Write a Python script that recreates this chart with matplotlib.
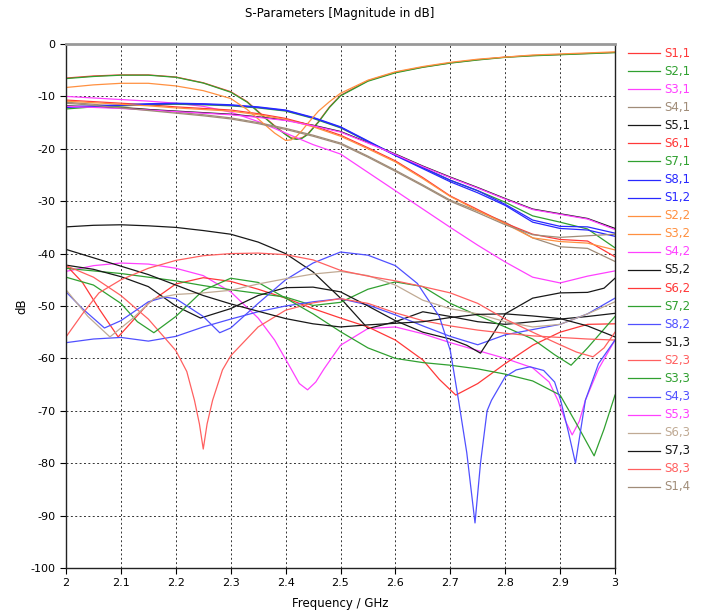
import matplotlib
matplotlib.use("Agg")
import matplotlib.pyplot as plt
from matplotlib.lines import Line2D

plt.rcParams["axes.unicode_minus"] = False

# common frequency grid (GHz)
freq = [2.00, 2.05, 2.10, 2.15, 2.20, 2.25, 2.30, 2.35, 2.40, 2.45, 2.50,
        2.55, 2.60, 2.65, 2.70, 2.75, 2.80, 2.85, 2.90, 2.95, 3.00]

# upper group (dip near 2.4 GHz)
f_top = [2.00, 2.05, 2.10, 2.15, 2.20, 2.25, 2.30, 2.33, 2.36, 2.38, 2.40, 2.41, 2.42, 2.43,
         2.44, 2.46, 2.48, 2.50, 2.55, 2.60, 2.65, 2.70, 2.75, 2.80, 2.85, 2.90, 2.95, 3.00]
s11 = [-6.5, -6.1, -5.9, -5.9, -6.3, -7.4, -9.1, -11.0, -13.8, -15.6, -17.2, -17.9, -18.1, -17.9,
       -17.2, -14.8, -12.0, -9.8, -7.0, -5.4, -4.4, -3.6, -3.0, -2.5, -2.2, -2.0, -1.8, -1.6]
s21 = [-6.6, -6.2, -5.95, -5.95, -6.35, -7.45, -9.2, -11.1, -13.9, -15.7, -17.3, -18.0, -18.2, -18.0,
       -17.3, -14.9, -12.1, -9.9, -7.1, -5.5, -4.45, -3.65, -3.05, -2.55, -2.25, -2.05, -1.85, -1.65]
s22 = [-8.3, -7.8, -7.5, -7.5, -8.0, -8.9, -10.4, -12.5, -15.2, -17.0, -18.4, -18.3, -17.6, -16.5,
       -15.2, -12.8, -11.0, -9.4, -6.9, -5.3, -4.3, -3.5, -2.9, -2.5, -2.1, -1.9, -1.7, -1.5]

# descending group (on freq grid)
s31 = [-10.0, -10.3, -10.6, -10.9, -11.3, -11.9, -13.0, -14.8, -17.0, -19.2, -21.0,
       -24.5, -28.0, -31.5, -35.0, -38.4, -41.6, -44.5, -45.6, -44.3, -43.3]
s41 = [-11.1, -11.5, -12.0, -12.5, -13.0, -13.5, -14.1, -15.0, -16.1, -17.4, -18.9,
       -21.4, -24.1, -26.9, -29.8, -31.9, -34.0, -37.0, -38.7, -39.0, -41.5]
s51 = [-11.8, -12.0, -12.2, -12.5, -12.8, -13.1, -13.4, -13.9, -14.5, -15.5, -16.7,
       -18.8, -21.0, -23.3, -25.4, -27.4, -29.5, -31.5, -32.4, -33.3, -35.2]
s61 = [-10.7, -11.0, -11.3, -11.6, -12.0, -12.3, -12.6, -13.3, -14.2, -15.6, -17.4,
       -19.8, -22.3, -25.5, -29.0, -31.6, -34.2, -36.3, -37.3, -37.6, -40.6]
s71 = [-12.4, -12.0, -11.8, -11.6, -11.5, -11.6, -11.8, -12.2, -12.8, -14.2, -16.0,
       -18.6, -21.2, -23.6, -26.0, -28.0, -30.2, -32.8, -34.0, -35.3, -38.9]
s81 = [-12.0, -11.8, -11.6, -11.4, -11.3, -11.4, -11.6, -12.0, -12.6, -14.0, -15.8,
       -18.5, -21.2, -23.6, -26.0, -28.0, -30.6, -33.6, -34.8, -34.9, -36.1]
s12 = [-12.1, -11.9, -11.7, -11.5, -11.4, -11.5, -11.7, -12.1, -12.7, -14.1, -15.9,
       -18.6, -21.3, -23.8, -26.3, -28.4, -30.8, -34.0, -35.2, -35.5, -36.7]
s32 = [-10.9, -11.2, -11.5, -11.8, -12.2, -12.5, -12.8, -13.5, -14.4, -15.8, -17.6,
       -20.0, -22.5, -25.7, -29.1, -31.8, -34.3, -37.0, -37.7, -38.0, -39.3]
s53 = [-11.9, -12.1, -12.3, -12.6, -12.9, -13.2, -13.5, -14.0, -14.6, -15.6, -16.8,
       -18.9, -21.1, -23.4, -25.5, -27.5, -29.6, -31.6, -32.5, -33.4, -35.4]
s14 = [-11.3, -11.7, -12.2, -12.7, -13.2, -13.7, -14.3, -15.2, -16.3, -17.6, -19.1,
       -21.6, -24.3, -27.1, -30.0, -32.2, -34.5, -36.4, -36.9, -36.6, -36.3]

# middle group
s52 = [-34.9, -34.6, -34.5, -34.7, -35.0, -35.6, -36.3, -37.8, -40.0, -43.5, -48.5,
       -54.3, -53.0, -51.1, -52.0, -53.0, -53.5, -53.0, -52.5, -52.0, -51.4]
s73 = [-39.2, -40.8, -42.4, -44.0, -46.0, -48.0, -49.6, -51.0, -52.4, -53.4, -54.0,
       -53.6, -53.3, -53.0, -52.2, -51.6, -51.5, -51.9, -52.4, -53.8, -55.9]
s82 = [-57.0, -56.3, -56.0, -56.7, -55.8, -54.0, -52.5, -51.1, -50.0, -49.2, -48.6,
       -49.8, -51.7, -53.8, -55.8, -57.4, -55.5, -54.5, -53.5, -51.5, -48.5]

f_s13 = [2.0, 2.05, 2.1, 2.15, 2.2, 2.245, 2.3, 2.35, 2.4, 2.45, 2.5, 2.55, 2.6, 2.65,
         2.7, 2.73, 2.755, 2.78, 2.8, 2.85, 2.9, 2.95, 2.98, 3.0]
s13 = [-42.2, -43.0, -44.4, -46.3, -50.0, -52.3, -50.5, -48.0, -46.5, -46.4, -47.3, -50.0, -52.8, -55.0,
       -56.3, -57.5, -59.0, -55.0, -51.5, -48.5, -47.5, -47.4, -46.6, -44.7]

f_s83 = [2.0, 2.03, 2.06, 2.1, 2.15, 2.2, 2.25, 2.3, 2.35, 2.4, 2.45, 2.5, 2.55, 2.6,
         2.65, 2.7, 2.75, 2.8, 2.85, 2.9, 2.93, 2.96, 2.98, 3.0]
s83 = [-55.9, -51.5, -47.5, -45.0, -42.8, -41.3, -40.4, -40.0, -39.9, -40.2, -41.2, -43.2, -44.3, -45.2,
       -46.3, -47.5, -49.5, -52.5, -55.0, -57.4, -58.8, -59.7, -58.0, -55.0]

f_s62 = [2.0, 2.03, 2.06, 2.095, 2.12, 2.15, 2.2, 2.25, 2.3, 2.35, 2.4, 2.45, 2.5, 2.55,
         2.6, 2.65, 2.68, 2.71, 2.75, 2.8, 2.85, 2.9, 2.95, 3.0]
s62 = [-42.2, -45.5, -50.5, -55.9, -53.0, -49.5, -45.8, -44.6, -45.3, -46.8, -48.5, -50.5, -52.3, -54.0,
       -56.5, -60.3, -64.0, -67.0, -64.8, -61.0, -57.5, -55.0, -53.5, -53.4]

f_s23 = [2.0, 2.05, 2.1, 2.15, 2.2, 2.22, 2.234, 2.243, 2.25, 2.257, 2.267, 2.285, 2.3, 2.35,
         2.4, 2.45, 2.5, 2.55, 2.6, 2.65, 2.7, 2.75, 2.8, 2.85, 2.9, 2.95, 3.0]
s23 = [-42.3, -44.5, -48.0, -52.5, -58.5, -62.5, -68.0, -72.5, -77.3, -72.5, -68.0, -62.2, -59.5, -54.0,
       -50.8, -49.4, -48.6, -49.5, -51.3, -52.8, -53.8, -54.6, -55.2, -55.7, -56.0, -56.3, -56.5]

f_s42 = [2.0, 2.05, 2.1, 2.15, 2.2, 2.25, 2.3, 2.35, 2.38, 2.41, 2.425, 2.44, 2.455, 2.47, 2.5,
         2.55, 2.6, 2.65, 2.7, 2.75, 2.8, 2.85, 2.88, 2.896, 2.91, 2.922, 2.935, 2.946, 2.97, 3.0]
s42 = [-43.4, -42.3, -41.8, -42.0, -42.8, -44.2, -47.3, -52.3, -56.5, -62.0, -64.8, -66.0, -64.5, -62.0, -57.5,
       -54.3, -54.0, -55.3, -57.0, -58.5, -60.0, -61.8, -64.5, -68.0, -72.0, -74.6, -72.0, -68.0, -62.0, -56.5]

f_s43 = [2.0, 2.03, 2.07, 2.1, 2.15, 2.18, 2.2, 2.25, 2.28, 2.3, 2.35, 2.4, 2.45, 2.5, 2.55, 2.6,
         2.64, 2.68, 2.7, 2.715, 2.73, 2.745, 2.755, 2.767, 2.775, 2.8, 2.82, 2.845, 2.87, 2.89,
         2.901, 2.915, 2.928, 2.937, 2.946, 2.97, 3.0]
s43 = [-47.3, -50.5, -54.2, -52.8, -49.2, -48.3, -48.6, -52.0, -55.1, -54.2, -49.5, -45.0, -41.8, -39.7, -40.3, -42.3,
       -45.7, -52.0, -58.5, -68.0, -78.0, -91.4, -80.0, -70.0, -68.0, -63.5, -62.2, -61.6, -62.3, -64.5,
       -68.0, -74.0, -80.0, -74.0, -68.0, -61.0, -56.5]

f_s72 = [2.0, 2.05, 2.1, 2.15, 2.2, 2.25, 2.3, 2.35, 2.4, 2.45, 2.5, 2.55, 2.6, 2.65, 2.7,
         2.75, 2.8, 2.85, 2.89, 2.92, 2.95, 3.0]
s72 = [-42.8, -43.3, -43.8, -44.5, -45.2, -46.1, -46.9, -47.6, -48.3, -49.9, -49.3, -46.8, -45.4, -46.3, -49.5,
       -51.8, -54.0, -56.3, -59.3, -61.3, -58.0, -52.0]

f_s33 = [2.0, 2.05, 2.1, 2.13, 2.16, 2.2, 2.25, 2.3, 2.35, 2.4, 2.45, 2.5, 2.55, 2.6, 2.65,
         2.7, 2.75, 2.8, 2.85, 2.9, 2.93, 2.962, 2.98, 3.0]
s33 = [-44.5, -46.0, -49.5, -53.0, -55.1, -52.0, -47.0, -44.7, -45.5, -48.5, -51.5, -54.9, -58.0, -60.0, -60.8,
       -61.3, -62.0, -63.0, -64.3, -67.0, -72.5, -78.6, -73.5, -67.0]

f_s63 = [2.0, 2.04, 2.08, 2.12, 2.16, 2.2, 2.25, 2.3, 2.35, 2.4, 2.45, 2.5, 2.55, 2.6, 2.65,
         2.7, 2.75, 2.8, 2.85, 2.9, 2.95, 3.0]
s63 = [-46.9, -52.0, -55.9, -52.5, -48.6, -47.8, -47.5, -47.0, -45.8, -44.8, -43.9, -43.4, -44.2, -46.0, -48.9,
       -50.5, -51.5, -53.0, -54.0, -53.5, -51.5, -49.2]

RED = "#ff3838"
LRED = "#ff6060"
GREEN = "#30a030"
MAG = "#ff40ff"
BROWN = "#a08c78"
TAN = "#c0aa94"
BLACK = "#181818"
BLUE = "#2828ff"
LBLUE = "#5050ff"
ORANGE = "#ff9040"

curves = [
    ("S1,1", f_top, s11, RED), ("S2,1", f_top, s21, GREEN), ("S3,1", freq, s31, MAG),
    ("S4,1", freq, s41, BROWN), ("S5,1", freq, s51, BLACK), ("S6,1", freq, s61, RED),
    ("S7,1", freq, s71, GREEN), ("S8,1", freq, s81, BLUE), ("S1,2", freq, s12, BLUE),
    ("S2,2", f_top, s22, ORANGE), ("S3,2", freq, s32, ORANGE), ("S4,2", f_s42, s42, MAG),
    ("S5,2", freq, s52, BLACK), ("S6,2", f_s62, s62, RED), ("S7,2", f_s72, s72, GREEN),
    ("S8,2", freq, s82, LBLUE), ("S1,3", f_s13, s13, BLACK), ("S2,3", f_s23, s23, LRED),
    ("S3,3", f_s33, s33, GREEN), ("S4,3", f_s43, s43, LBLUE), ("S5,3", freq, s53, MAG),
    ("S6,3", f_s63, s63, TAN), ("S7,3", freq, s73, BLACK), ("S8,3", f_s83, s83, LRED),
    ("S1,4", freq, s14, BROWN),
]

W, H = 701, 612
fig = plt.figure(figsize=(W / 100, H / 100), dpi=100)
ax = fig.add_axes([66 / W, 1 - 568 / H, 549 / W, 524 / H])

for name, f, v, c in curves:
    ax.plot(f, v, color=c, lw=0.9)

ax.set_xlim(2, 3)
ax.set_ylim(-100, 0)
xt = [2.0, 2.1, 2.2, 2.3, 2.4, 2.5, 2.6, 2.7, 2.8, 2.9, 3.0]
ax.set_xticks(xt)
ax.set_xticklabels(["2", "2.1", "2.2", "2.3", "2.4", "2.5", "2.6", "2.7", "2.8", "2.9", "3"])
ax.set_yticks(range(-100, 1, 10))
ax.tick_params(labelsize=8, length=4, direction="out", width=0.8)
ax.grid(True, color="#333333", linestyle=(0, (2, 2.5)), lw=0.7)
for s in ["left", "bottom", "right"]:
    ax.spines[s].set_color("#222222")
    ax.spines[s].set_linewidth(1.0)
ax.spines["top"].set_color("#999999")
ax.spines["top"].set_linewidth(2.0)

fig.text(340 / W, 1 - 14 / H, "S-Parameters [Magnitude in dB]", ha="center", va="center", fontsize=8.5)
fig.text(340 / W, 1 - 604 / H, "Frequency / GHz", ha="center", va="center", fontsize=8.5)
fig.text(22 / W, 1 - 306 / H, "dB", ha="center", va="center", rotation=90, fontsize=8.5)

# legend on the right
for i, (name, f, v, c) in enumerate(curves):
    y = 1 - (53 + 18.08 * i) / H
    fig.add_artist(Line2D([628 / W, 660 / W], [y, y], color=c, lw=0.9))
    fig.text(664 / W, y, name, color=c, fontsize=8.5, va="center", ha="left")

fig.savefig("out.png", dpi=100)
